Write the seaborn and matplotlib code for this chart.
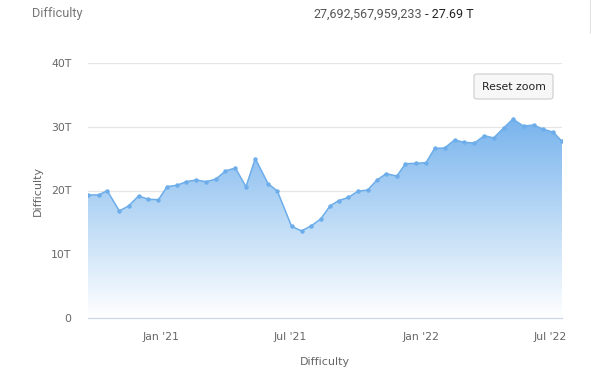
import matplotlib
matplotlib.use("Agg")
import matplotlib.pyplot as plt
import matplotlib.dates as mdates
import numpy as np
import pandas as pd
import seaborn as sns
from matplotlib.patches import FancyBboxPatch

sns.set_theme(style="white")
plt.rcParams['font.family'] = ['DejaVu Sans']

# ---- data ----
dates = ["2020-09-20", "2020-10-05", "2020-10-17", "2020-11-03", "2020-11-16",
         "2020-11-30", "2020-12-14", "2020-12-28", "2021-01-09", "2021-01-23",
         "2021-02-05", "2021-02-19", "2021-03-05", "2021-03-19", "2021-04-01",
         "2021-04-15", "2021-04-30", "2021-05-13", "2021-05-31", "2021-06-13",
         "2021-07-03", "2021-07-17", "2021-07-31", "2021-08-13", "2021-08-26",
         "2021-09-07", "2021-09-21", "2021-10-04", "2021-10-18", "2021-10-31",
         "2021-11-13", "2021-11-28", "2021-12-10", "2021-12-25", "2022-01-08",
         "2022-01-20", "2022-02-03", "2022-02-17", "2022-03-03", "2022-03-17",
         "2022-03-31", "2022-04-13", "2022-04-27", "2022-05-10", "2022-05-25",
         "2022-06-08", "2022-06-22", "2022-07-06", "2022-07-18"]
difficulty_T = [19.3, 19.3, 19.97, 16.8, 17.57, 19.14, 18.62, 18.56, 20.6, 20.82,
                21.38, 21.65, 21.38, 21.8, 23.06, 23.53, 20.6, 25.0, 21.07, 19.92,
                14.4, 13.65, 14.48, 15.53, 17.57, 18.4, 18.93, 19.87, 20.08, 21.65,
                22.64, 22.27, 24.2, 24.26, 24.37, 26.6, 26.67, 27.92, 27.55, 27.45,
                28.6, 28.24, 29.8, 31.2, 30.1, 30.27, 29.6, 29.13, 27.69]
y_ticks = [0, 10, 20, 30, 40]
y_tick_labels = ["0", "10T", "20T", "30T", "40T"]
x_ticks = ["2021-01-01", "2021-07-01", "2022-01-01", "2022-07-01"]
x_tick_labels = ["Jan '21", "Jul '21", "Jan '22", "Jul '22"]
x_range = ["2020-09-20", "2022-07-18"]

df = pd.DataFrame({"date": pd.to_datetime(dates), "value": difficulty_T})

W, H = 591, 377
fig = plt.figure(figsize=(W / 100, H / 100), dpi=100)
ax = fig.add_axes([88 / W, (H - 318) / H, 474 / W, 255 / H])

xmin, xmax = mdates.date2num(pd.to_datetime(x_range))
ax.set_xlim(xmin, xmax)
ax.set_ylim(0, 40)

# gradient fill under the curve
top_c = np.array([82, 159, 232]) / 255.0
grad = np.linspace(1, 0, 256)[:, None]  # 1 at top
img = np.zeros((256, 1, 4))
for i in range(3):
    img[:, :, i] = grad * top_c[i] + (1 - grad) * 1.0
img[:, :, 3] = 1.0
im = ax.imshow(img, aspect='auto', extent=[xmin, xmax, 0, 40], origin='upper', zorder=1)
xs = mdates.date2num(df["date"])
poly = ax.fill_between(xs, df["value"], 0, color='none', zorder=0)
clip_path = poly.get_paths()[0]
im.set_clip_path(clip_path, transform=ax.transData)

sns.lineplot(data=df, x="date", y="value", ax=ax, color="#6cadea", linewidth=1.1,
             marker="o", markersize=3.2, markeredgewidth=0, zorder=3)

# grid
for yt in y_ticks[1:]:
    ax.axhline(yt, color="#e6e6e6", linewidth=0.9, zorder=0.5)

for s in ["top", "right", "left"]:
    ax.spines[s].set_visible(False)
ax.spines["bottom"].set_color("#ccd6eb")
ax.spines["bottom"].set_linewidth(0.9)
ax.spines["bottom"].set_zorder(4)

ax.set_yticks(y_ticks)
ax.set_yticklabels(y_tick_labels, color="#666666", fontsize=7.8)
ax.tick_params(axis='y', length=0, pad=12)
ax.set_xticks(mdates.date2num(pd.to_datetime(x_ticks)))
ax.set_xticklabels(x_tick_labels, color="#666666", fontsize=7.8)
ax.tick_params(axis='x', length=7, width=0.9, color="#ccd6eb", pad=3, direction='out')

ax.set_xlabel("Difficulty", color="#666666", fontsize=8, labelpad=11)
ax.set_ylabel("Difficulty", color="#666666", fontsize=8, labelpad=6)

# header texts
fig.text(32 / W, 1 - 14 / H, "Difficulty", family="Roboto", color="#777777",
         fontsize=9.2, va="center", ha="left")
fig.text(422 / W, 1 - 14 / H, "27,692,567,959,233", family="Roboto",
         color="#555555", fontsize=9, va="center", ha="right")
fig.text(422 / W, 1 - 14 / H, " - 27.69 T", family="Roboto", color="#222222",
         fontsize=9, va="center", ha="left")
fig.add_artist(plt.Line2D([590 / W, 590 / W], [1 - 0 / H, 1 - 33 / H],
                          color="#e0e0e0", linewidth=0.8))

# Reset zoom button
btn = FancyBboxPatch((474 / W, 1 - 99 / H), 79 / W, 25 / H,
                     boxstyle="round,pad=0,rounding_size=0.006",
                     transform=fig.transFigure, facecolor="#f7f7f7",
                     edgecolor="#cccccc", linewidth=0.8, zorder=10)
fig.add_artist(btn)
fig.text(513.5 / W, 1 - 86.5 / H, "Reset zoom", family="DejaVu Sans", color="#222222",
         fontsize=7.8, ha="center", va="center", zorder=11)

fig.savefig("out.png", dpi=100)
